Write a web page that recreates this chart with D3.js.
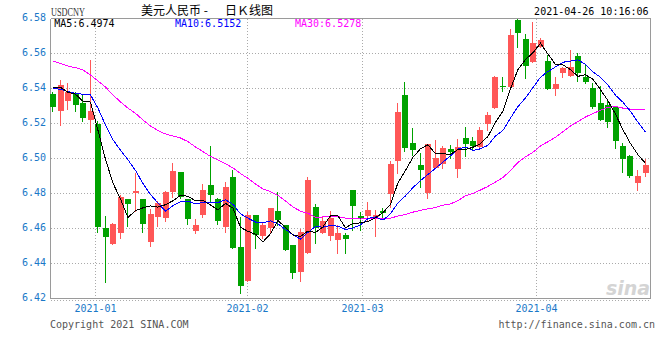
<!DOCTYPE html>
<html><head><meta charset="utf-8">
<script src="https://cdn.jsdelivr.net/npm/d3@7"></script>
<style>html,body{margin:0;padding:0;background:#fff;}svg{display:block}</style>
</head><body><div id="chart"></div>
<script>
// ---- data ----
const openP = [6.5367,6.5272,6.5329,6.5367,6.5318,6.5221,6.5198,6.4602,6.4510,6.4575,
6.4767,6.4803,6.4767,6.4523,6.4666,6.4661,6.4807,6.4922,6.4767,6.4586,
6.4676,6.4847,6.4767,6.4609,6.4895,6.4495,6.4301,6.4676,6.4556,6.4600,
6.4699,6.4619,6.4505,6.4352,6.4461,6.4723,6.4571,6.4558,6.4533,6.4562,
6.4819,6.4670,6.4672,6.4665,6.4699,6.4796,6.4986,6.5362,6.5086,6.4962,
6.4803,6.4946,6.4966,6.5053,6.4937,6.5118,6.5099,6.5066,6.5194,6.5289,
6.5411,6.5409,6.5790,6.5682,6.5552,6.5638,6.5556,6.5394,6.5486,6.5472,
6.5585,6.5466,6.5402,6.5318,6.5305,6.5295,6.5070,6.5015,6.4857,6.4918];
const highP = [6.5381,6.5447,6.5429,6.5377,6.5366,6.5562,6.5213,6.4670,6.4630,6.4789,
6.4767,6.4918,6.4767,6.4710,6.4756,6.4815,6.4975,6.4922,6.4767,6.4653,
6.4853,6.5070,6.4775,6.4863,6.4933,6.4666,6.4695,6.4676,6.4629,6.4718,
6.4806,6.4619,6.4505,6.4594,6.4895,6.4739,6.4666,6.4699,6.4619,6.4571,
6.4819,6.4695,6.4752,6.4705,6.4718,6.4985,6.5318,6.5438,6.5175,6.5029,
6.5082,6.5105,6.5070,6.5076,6.5110,6.5181,6.5123,6.5181,6.5266,6.5470,
6.5465,6.5739,6.5794,6.5710,6.5779,6.5687,6.5590,6.5463,6.5523,6.5619,
6.5600,6.5533,6.5429,6.5413,6.5337,6.5295,6.5089,6.5019,6.4933,6.4994];
const lowP = [6.5272,6.5190,6.5282,6.5272,6.5213,6.5152,6.4581,6.4295,6.4508,6.4546,
6.4615,6.4699,6.4579,6.4501,6.4615,6.4642,6.4779,6.4775,6.4625,6.4575,
6.4666,6.4756,6.4625,6.4581,6.4486,6.4229,6.4298,6.4486,6.4543,6.4575,
6.4619,6.4476,6.4318,6.4301,6.4461,6.4514,6.4571,6.4533,6.4457,6.4457,
6.4590,6.4590,6.4647,6.4558,6.4657,6.4723,6.4918,6.5043,6.5019,6.4838,
6.4771,6.4946,6.4943,6.5000,6.4895,6.5015,6.5053,6.5066,6.5162,6.5289,
6.5386,6.5409,6.5638,6.5461,6.5552,6.5638,6.5394,6.5362,6.5466,6.5472,
6.5443,6.5429,6.5286,6.5219,6.5181,6.5061,6.4923,6.4895,6.4819,6.4901];
const closeP = [6.5295,6.5419,6.5379,6.5306,6.5232,6.5270,6.4609,6.4552,6.4625,6.4781,
6.4739,6.4813,6.4626,6.4682,6.4746,6.4807,6.4927,6.4781,6.4653,6.4621,
6.4819,6.4790,6.4643,6.4838,6.4486,6.4270,6.4676,6.4562,6.4619,6.4718,
6.4647,6.4476,6.4343,6.4581,6.4876,6.4600,6.4643,6.4661,6.4571,6.4539,
6.4729,6.4653,6.4705,6.4676,6.4687,6.4967,6.5266,6.5061,6.5047,6.4933,
6.5082,6.5003,6.5061,6.5038,6.5065,6.5083,6.5070,6.5162,6.5247,6.5463,
6.5407,6.5705,6.5718,6.5529,6.5659,6.5676,6.5394,6.5425,6.5514,6.5523,
6.5486,6.5438,6.5295,6.5219,6.5206,6.5101,6.4994,6.4901,6.4899,6.4962];
// moving-average values at the left edge (windows reach before the first candle)
const ma5Start = [6.5405,6.5405,6.5377,6.5366];
const ma10Start = [6.5400,6.5394,6.5381,6.5371,6.5366,6.5362,6.5286,6.5190,6.5105];
const ma30Start = [6.5556,6.5542,6.5527,6.5518,6.5505,6.5476,6.5442,6.5407,6.5362,6.5322,
6.5287,6.5257,6.5219,6.5185,6.5158,6.5139,6.5127,6.5116,6.5095,6.5065,
6.5038,6.5011,6.4990,6.4969,6.4945,6.4913,6.4885,6.4853,6.4825];
const yTicks = [6.42,6.44,6.46,6.48,6.50,6.52,6.54,6.56,6.58];
const yTickLabels = ["6.42","6.44","6.46","6.48","6.50","6.52","6.54","6.56","6.58"];
const monthLabels = ["2021-01","2021-02","2021-03","2021-04"];
const monthIndex = [5.6,25.9,41.16,64.44];
const legendTexts = ["MA5:6.4974","MA10:6.5152","MA30:6.5278"];
const symbolText = "USDCNY";
const titleParts = ["美元人民币 -","日Ｋ线图"];
const timeText = "2021-04-26 10:16:06";
const footerLeft = "Copyright 2021 SINA.COM";
const footerRight = "http://finance.sina.com.cn";

// ---- drawing ----
const W = 660, H = 360;
const L = 50.5, R = 650.5, T = 18.5, B = 298.3;
const RED = "#ff5757", GREEN = "#00a200", GRID = "#aaaaaa", FRAME = "#9a9a9a", AXIS = "#1a78c8";
const MONO = "'DejaVu Sans Mono', monospace";

const svg = d3.select("#chart").append("svg").attr("width", W).attr("height", H);
svg.append("rect").attr("width", W).attr("height", H).attr("fill", "#fff");

const n = closeP.length;
const x = d3.scaleLinear().domain([0, n - 1]).range([53, 645.5]);
const y = d3.scaleLinear().domain([6.42, 6.58]).range([298.3, 18.3]);

// gridlines
const grid = svg.append("g").attr("stroke", GRID).attr("stroke-dasharray", "1,2").attr("shape-rendering", "crispEdges");
yTicks.slice(1, -1).forEach(v => {
  const yy = Math.round(y(v)) + 0.5;
  grid.append("line").attr("x1", L).attr("x2", R).attr("y1", yy).attr("y2", yy);
});
monthIndex.forEach(p => {
  const xx = Math.round(x(p)) + 0.5;
  grid.append("line").attr("x1", xx).attr("x2", xx).attr("y1", T).attr("y2", 298);
});
grid.append("line").attr("x1", L).attr("x2", R).attr("y1", 300.5).attr("y2", 300.5);

// frame
const fr = svg.append("g").attr("stroke", FRAME).attr("fill", "none").attr("shape-rendering", "crispEdges");
fr.append("line").attr("x1", L).attr("x2", L).attr("y1", T).attr("y2", 298.5);
fr.append("line").attr("x1", R).attr("x2", R).attr("y1", T).attr("y2", 298.5);
fr.append("line").attr("x1", L).attr("x2", R).attr("y1", T).attr("y2", T);
fr.append("line").attr("x1", L).attr("x2", R).attr("y1", 298.5).attr("y2", 298.5);

// candles
const cg = svg.append("g").attr("shape-rendering", "crispEdges");
for (let i = 0; i < n; i++) {
  const cx = Math.round(x(i));
  const up = closeP[i] >= openP[i];
  const col = up ? RED : GREEN;
  cg.append("line").attr("x1", cx - 0.5).attr("x2", cx - 0.5)
    .attr("y1", Math.round(y(highP[i]))).attr("y2", Math.round(y(lowP[i])) + 1)
    .attr("stroke", col);
  const y0 = Math.round(y(Math.max(openP[i], closeP[i])));
  const y1 = Math.round(y(Math.min(openP[i], closeP[i])));
  cg.append("rect").attr("x", cx - 3).attr("y", y0).attr("width", 6)
    .attr("height", Math.max(1, y1 - y0)).attr("fill", col);
}

// moving averages
function movingAvg(win, start) {
  return closeP.map((c, i) => i < win - 1 ? start[i] : d3.mean(closeP.slice(i - win + 1, i + 1)));
}
const line = d3.line().x((d, i) => x(i)).y(d => y(d));
[[movingAvg(30, ma30Start), "#ff00ff"], [movingAvg(10, ma10Start), "#0000ff"], [movingAvg(5, ma5Start), "#000000"]]
  .forEach(([vals, col]) => {
    svg.append("path").attr("d", line(vals)).attr("fill", "none").attr("stroke", col)
      .attr("stroke-width", 1).attr("shape-rendering", "crispEdges");
  });

// y axis labels
yTicks.forEach((v, i) => {
  svg.append("text").attr("x", 46).attr("y", Math.max(y(v) - 1, 16.3)).attr("dy", "0.35em")
    .attr("text-anchor", "end").attr("font-family", MONO).attr("font-size", 10)
    .attr("fill", AXIS).text(yTickLabels[i]);
});
// month labels
monthIndex.forEach((p, i) => {
  svg.append("text").attr("x", Math.round(x(p)) + 0.5).attr("y", 312).attr("text-anchor", "middle")
    .attr("font-family", MONO).attr("font-size", 10).attr("fill", AXIS).text(monthLabels[i]);
});

// header
svg.append("text").attr("x", 51).attr("y", 15.7).attr("font-family", "'Liberation Serif', serif")
  .attr("font-size", 12).attr("textLength", 34).attr("lengthAdjust", "spacingAndGlyphs")
  .attr("fill", "#333").text(symbolText);
const tt = svg.append("text").attr("y", 14.5).attr("font-family", "'Noto Sans CJK SC', sans-serif")
  .attr("font-size", 12).attr("fill", "#000");
tt.append("tspan").attr("x", 141).text(titleParts[0]);
tt.append("tspan").attr("x", 225).text(titleParts[1]);
svg.append("text").attr("x", 648.5).attr("y", 15).attr("text-anchor", "end")
  .attr("font-family", MONO).attr("font-size", 10).attr("fill", "#000").text(timeText);

// legend
const legX = [54.3, 175, 295];
const legCol = ["#000000", "#0000ff", "#ff00ff"];
legendTexts.forEach((t, i) => {
  svg.append("text").attr("x", legX[i]).attr("y", 26.5).attr("font-family", MONO)
    .attr("font-size", 10).attr("fill", legCol[i]).text(t);
});

// footer
svg.append("text").attr("x", 50).attr("y", 327.5).attr("font-family", MONO).attr("font-size", 10)
  .attr("fill", "#555").text(footerLeft);
svg.append("text").attr("x", 655).attr("y", 327.5).attr("text-anchor", "end").attr("font-family", MONO)
  .attr("font-size", 10).attr("fill", "#555").text(footerRight);

// watermark
svg.append("text").attr("x", 606).attr("y", 295).attr("font-family", "'DejaVu Sans', sans-serif")
  .attr("font-size", 19).attr("font-style", "italic").attr("font-weight", "bold")
  .attr("fill", "#d4d4d4").text("sina");
</script></body></html>
